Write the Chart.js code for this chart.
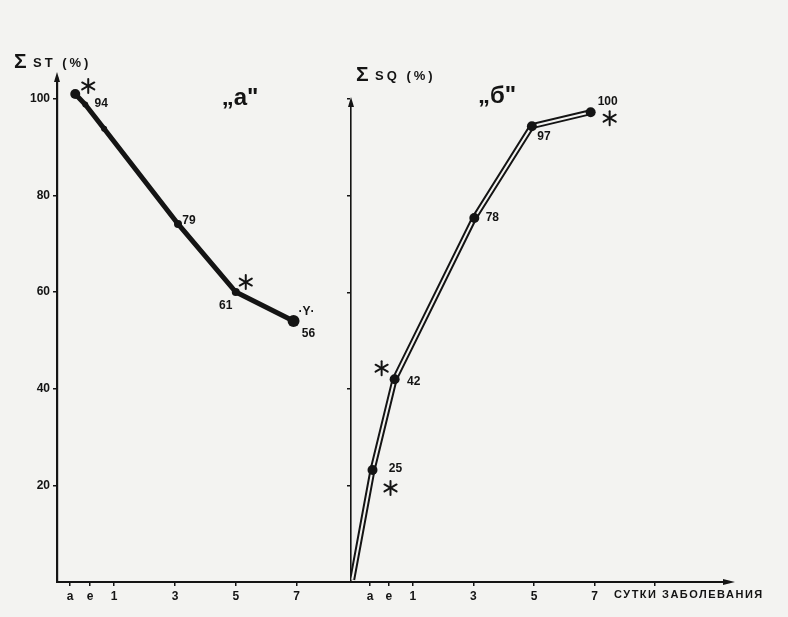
<!DOCTYPE html>
<html>
<head>
<meta charset="utf-8">
<script src="https://cdn.jsdelivr.net/npm/chart.js@4.4.1/dist/chart.umd.min.js"></script>
<style>
html, body { margin: 0; padding: 0; background: #f3f3f1; }
#wrap { position: relative; width: 788px; height: 617px; }
canvas { position: absolute; left: 0; top: 0; }
</style>
</head>
<body>
<div id="wrap">
  <canvas id="chartA" width="788" height="617"></canvas>
  <canvas id="chartB" width="788" height="617"></canvas>
</div>
<script>
// panel "а": sum ST (%) by day of illness
const daysA = [-0.28, 0.05, 0.67, 3.1, 5.0, 6.9];
const stValues = [101, 98.8, 93.8, 74.1, 60.0, 54.0];
// panel "б": sum SQ (%) by day of illness
const daysB = [-1.0, -0.33, 0.4, 3.03, 4.93, 6.87];
const sqValues = [0.5, 23.2, 42.0, 75.4, 94.4, 97.3];

const xTicksA = [-0.45, 0.21, 1, 3, 5, 7];
const xTicksB = [-0.41, 0.21, 1, 3, 5, 7, 9];
const xLabels = ["а", "е", "1", "3", "5", "7", ""];
const yTicks = [20, 40, 60, 80, 100];

// text next to points: [point index, text, dx, dy]
const notesA = [[1, "94", 16, -1], [3, "79", 11, -3], [4, "61", -10, 14], [5, "56", 15, 13], [5, "·Y·", 13, -9]];
const starsA = [[0, 13, -8], [4, 10, -10]];
const notesB = [[1, "25", 23, -1], [2, "42", 19, 2], [3, "78", 18, 0], [4, "97", 12, 11], [5, "100", 17, -10]];
const starsB = [[1, 18, 18], [2, -13, -11], [5, 19, 6]];

const INK = '#141414';
const FONT = '"Liberation Sans", "DejaVu Sans", sans-serif';

function drawStar(ctx, x, y, r) {
    ctx.save();
    ctx.strokeStyle = INK;
    ctx.lineWidth = 2;
    ctx.lineCap = 'round';
    for (let k = 0; k < 3; k++) {
        const a = Math.PI / 2 + k * Math.PI / 3;
        ctx.beginPath();
        ctx.moveTo(x - r * Math.cos(a), y - r * Math.sin(a));
        ctx.lineTo(x + r * Math.cos(a), y + r * Math.sin(a));
        ctx.stroke();
    }
    ctx.restore();
}

function arrow(ctx, x, y, dir) {
    ctx.save();
    ctx.fillStyle = INK;
    ctx.beginPath();
    if (dir === 'up') {
        ctx.moveTo(x, y - 6); ctx.lineTo(x - 3, y + 4); ctx.lineTo(x + 3, y + 4);
    } else {
        ctx.moveTo(x + 8, y); ctx.lineTo(x - 4, y - 3); ctx.lineTo(x - 4, y + 3);
    }
    ctx.closePath();
    ctx.fill();
    ctx.restore();
}

function notesPlugin(days, vals, notes, stars, extra) {
    return {
        id: 'notes',
        afterDatasetsDraw(chart) {
            const ctx = chart.ctx;
            const xs = chart.scales.x, ys = chart.scales.y;
            ctx.save();
            ctx.fillStyle = INK;
            ctx.textAlign = 'center';
            ctx.textBaseline = 'middle';
            ctx.font = 'bold 12px ' + FONT;
            notes.forEach(([i, t, dx, dy]) => {
                ctx.fillText(t, xs.getPixelForValue(days[i]) + dx, ys.getPixelForValue(vals[i]) + dy);
            });
            stars.forEach(([i, dx, dy]) => {
                drawStar(ctx, xs.getPixelForValue(days[i]) + dx, ys.getPixelForValue(vals[i]) + dy, 7);
            });
            ctx.restore();
            extra(chart, ctx);
        }
    };
}

function title(ctx, x, y, sub) {
    ctx.save();
    ctx.fillStyle = INK;
    ctx.textBaseline = 'middle';
    ctx.textAlign = 'left';
    ctx.font = 'bold 21px ' + FONT;
    ctx.fillText('Σ', x, y);
    ctx.font = 'bold 13px ' + FONT;
    ctx.letterSpacing = '3px';
    ctx.fillText(sub, x + 19, y + 1);
    ctx.restore();
}

function baseOptions(xMin, xMax, yMax, xTicks, pad, yWidth, showY) {
    return {
        responsive: false,
        animation: false,
        layout: { padding: pad },
        plugins: { legend: { display: false }, tooltip: { enabled: false } },
        scales: {
            x: {
                type: 'linear', min: xMin, max: xMax,
                afterBuildTicks: s => { s.ticks = xTicks.map(v => ({ value: v })); },
                afterFit: s => { s.height = 35; },
                ticks: {
                    autoSkip: false, maxRotation: 0, padding: 3, color: INK,
                    font: { family: FONT, size: 12, weight: 'bold' },
                    callback: (v, i) => xLabels[i]
                },
                grid: { drawOnChartArea: false, tickLength: 4, color: INK, lineWidth: 1.5 },
                border: { color: INK, width: 2 }
            },
            y: {
                type: 'linear', min: 0, max: yMax,
                afterBuildTicks: s => { s.ticks = yTicks.map(v => ({ value: v })); },
                afterFit: s => { s.width = yWidth; },
                ticks: {
                    display: showY, padding: 3, color: INK,
                    font: { family: FONT, size: 12, weight: 'bold' }
                },
                grid: { drawOnChartArea: false, tickLength: 4, color: INK, lineWidth: 1.5 },
                border: { color: INK, width: showY ? 2.2 : 1.6 }
            }
        }
    };
}

const ptsA = daysA.map((d, i) => ({ x: d, y: stValues[i] }));
const ptsB = daysB.map((d, i) => ({ x: d, y: sqValues[i] }));

new Chart(document.getElementById('chartA'), {
    type: 'line',
    data: {
        datasets: [{
            data: ptsA,
            borderColor: INK,
            borderWidth: 5,
            tension: 0,
            pointRadius: [5, 3, 3, 4, 4, 6],
            pointBackgroundColor: INK,
            pointBorderWidth: 0
        }]
    },
    options: baseOptions(-0.88, 8.79, 104.3, xTicksA, { left: 0, right: 437, top: 78, bottom: 0 }, 57, true),
    plugins: [notesPlugin(daysA, stValues, notesA, starsA, (chart, ctx) => {
        const a = chart.chartArea;
        arrow(ctx, a.left, a.top, 'up');
        title(ctx, 14, 62, 'ST (%)');
        ctx.save();
        ctx.fillStyle = INK;
        ctx.font = 'bold 24px ' + FONT;
        ctx.textAlign = 'center';
        ctx.textBaseline = 'middle';
        ctx.fillText('„а"', 240, 98);
        ctx.restore();
    })]
});

new Chart(document.getElementById('chartB'), {
    type: 'line',
    data: {
        datasets: [{
            data: ptsB,
            showLine: false,
            pointRadius: [0, 5, 5, 5, 5, 5],
            pointBackgroundColor: INK,
            pointBorderWidth: 0,
            order: 0
        }, {
            data: ptsB,
            borderColor: '#f3f3f1',
            borderWidth: 2,
            tension: 0,
            pointRadius: 0,
            order: 1
        }, {
            data: ptsB,
            borderColor: INK,
            borderWidth: 6,
            tension: 0,
            pointRadius: 0,
            order: 2
        }]
    },
    options: baseOptions(-1.04, 11.37, 99.2, xTicksB, { left: 351, right: 61, top: 103, bottom: 0 }, 0, false),
    plugins: [notesPlugin(daysB, sqValues, notesB, starsB, (chart, ctx) => {
        const a = chart.chartArea;
        arrow(ctx, a.left, a.top, 'up');
        arrow(ctx, a.right, a.bottom, 'right');
        title(ctx, 356, 75, 'SQ (%)');
        ctx.save();
        ctx.fillStyle = INK;
        ctx.font = 'bold 24px ' + FONT;
        ctx.textAlign = 'center';
        ctx.textBaseline = 'middle';
        ctx.fillText('„б"', 497, 96);
        ctx.font = 'bold 11px ' + FONT;
        ctx.textAlign = 'left';
        ctx.letterSpacing = '1.5px';
        ctx.fillText('СУТКИ ЗАБОЛЕВАНИЯ', 614, 595);
        ctx.restore();
    })]
});
</script>
</body>
</html>
